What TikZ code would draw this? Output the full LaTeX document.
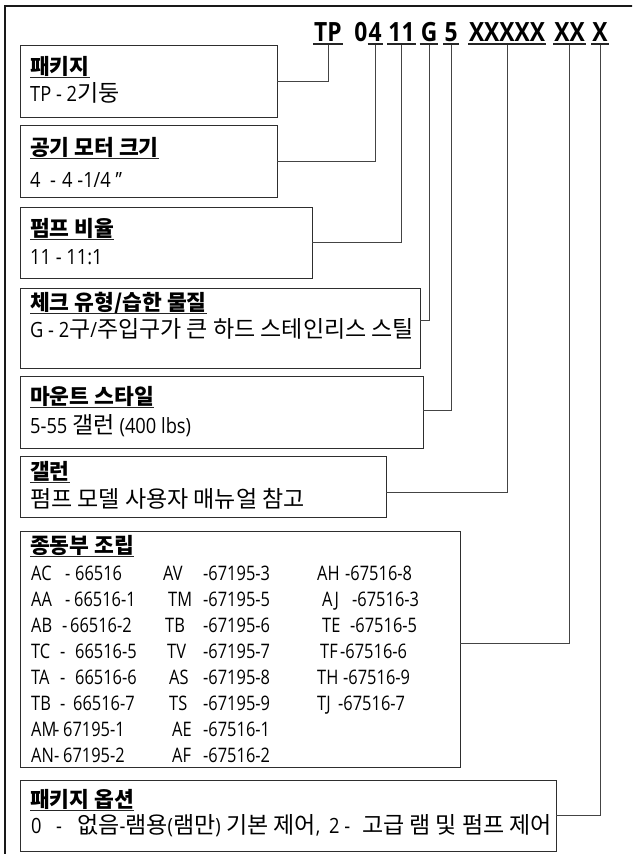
\documentclass[tikz,border=0pt]{standalone}
\usepackage{fontspec}
\setmainfont{Noto Sans CJK KR}
\newfontfamily\latf{Open Sans}[FakeStretch=0.87]
\newfontfamily\tabf{Open Sans}[FakeStretch=0.82]
\newfontfamily\codef{Open Sans}[FakeStretch=0.86]
\newcommand\lt[1]{{\latf\fontsize{21}{25}\selectfont #1}}
\definecolor{boxc}{HTML}{2E2E2E}
\definecolor{connc}{HTML}{444444}
\tikzset{
  boxnode/.style={draw=boxc, line width=1pt, anchor=north west, inner sep=0pt, outer sep=0pt},
  lab/.style={anchor=base west, inner sep=0pt, font=\fontsize{21.5}{25}\selectfont\bfseries},
  body/.style={anchor=base west, inner sep=0pt, font=\fontsize{23}{27}\selectfont},
  tab/.style={anchor=base west, inner sep=0pt, font=\tabf\fontsize{20}{23}\selectfont},
  codetxt/.style={anchor=base, inner sep=0pt, font=\codef\bfseries\fontsize{26.5}{30}\selectfont},
  conn/.style={draw=connc, line width=1pt},
  uline/.style={draw=black!85, line width=1.4pt},
  cline/.style={draw=black!85, line width=2pt},
}
\begin{document}
\begin{tikzpicture}[x=1pt,y=-1pt]
\clip (0,0) rectangle (632,854);
\draw[line width=1.6pt, draw=black!90] (5,6) rectangle (700,900);

% code line
\node[codetxt] (c1) at (328,41) {TP};
\node[codetxt, anchor=base east] (c0) at (367.5,41) {0};
\node[codetxt, anchor=base west] (c2) at (368.5,41) {4};
\node[codetxt] (c3) at (401.5,41) {11};
\node[codetxt] (c4) at (429,41) {G};
\node[codetxt] (c5) at (451,41) {5};
\node[codetxt] (c6) at (507,41) {XXXXX};
\node[codetxt] (c7) at (569.5,41) {XX};
\node[codetxt] (c8) at (600,41) {X};
\foreach \c in {c1,c2,c3,c4,c5,c6,c7,c8}{
  \draw[cline] ([xshift=-1pt,yshift=-3pt]\c.base west) -- ([xshift=1pt,yshift=-3pt]\c.base east);
}

% boxes
\node[boxnode, minimum width=257pt, minimum height=72pt] (b1) at (20,45) {};
\node[boxnode, minimum width=257pt, minimum height=72pt] (b2) at (20,125) {};
\node[boxnode, minimum width=292pt, minimum height=71pt] (b3) at (20,207) {};
\node[boxnode, minimum width=400pt, minimum height=80pt] (b4) at (20,288) {};
\node[boxnode, minimum width=403pt, minimum height=72pt] (b5) at (20,376) {};
\node[boxnode, minimum width=366pt, minimum height=61pt] (b6) at (20,456) {};
\node[boxnode, minimum width=440pt, minimum height=236pt] (b7) at (20,531) {};
\node[boxnode, minimum width=536pt, minimum height=71pt] (b8) at (20,780) {};

% labels
\node[lab] (l1) at (30,74) {패키지};
\node[lab] (l2) at (30,155) {공기 모터 크기};
\node[lab] (l3) at (30,236) {펌프 비율};
\node[lab] (l4) at (30,310) {체크 유형/습한 물질};
\node[lab] (l5) at (30,404) {마운트 스타일};
\node[lab] (l6) at (30,479) {갤런};
\node[lab] (l7) at (30,553) {종동부 조립};
\node[lab] (l8) at (30,807) {패키지 옵션};
\foreach \l in {l1,l2,l3,l4,l5,l6,l7,l8}{
  \draw[uline] ([yshift=-3.5pt]\l.base west) -- ([yshift=-3.5pt]\l.base east);
}

% body texts
\node[body] (t1) at (30,101) {\lt{TP - 2}기둥};
\node[body] (t2) at (30,187) {\lt{\makebox[20pt][l]{4}\makebox[12pt][l]{-}4 -1/4 ”}};
\node[body] (t3) at (30,264) {\lt{11 - 11:1}};
\node[body] (t4) at (30,337) {\lt{G - 2}구\lt{/}주입구가 큰 하드 스테인리스 스틸};
\node[body] (t5) at (30,433) {\lt{5-55 }갤런 \lt{(400 lbs)}};
\node[body] (t6) at (30,507) {펌프 모델 사용자 매뉴얼 참고};
\node[body] (t8) at (31,833) {\lt{\makebox[25pt][l]{0}\makebox[21pt][l]{-}}없음\lt{-}램용\lt{(}램만\lt{)} 기본 제어\lt{,}};
\node[body] (t8b) at (329,833) {\lt{\makebox[33pt][l]{2 -}}고급 램 및 펌프 제어};

% table
\foreach \i/\code/\dx/\nx/\num in {1/AC/65/75/66516, 2/AA/65/74/66516-1, 3/AB/62/70/66516-2, 4/TC/60/75/66516-5, 5/TA/60/75/66516-6, 6/TB/60/73/66516-7, 7/AM/54/63/67195-1, 8/AN/54/63/67195-2}{
  \node[tab] (pa\i) at (31,{554+26*\i}) {\code};
  \node[tab] (pd\i) at (\dx,{554+26*\i}) {-};
  \node[tab] (pn\i) at (\nx,{554+26*\i}) {\num};
}
\foreach \i/\code/\cx/\num in {1/AV/163/67195-3, 2/TM/168/67195-5, 3/TB/165/67195-6, 4/TV/167/67195-7, 5/AS/169/67195-8, 6/TS/169/67195-9, 7/AE/172/67516-1, 8/AF/172/67516-2}{
  \node[tab] (qa\i) at (\cx,{554+26*\i}) {\code};
  \node[tab] (qn\i) at (203,{554+26*\i}) {-\num};
}
\foreach \i/\code/\cx/\dx/\num in {1/AH/317/345/67516-8, 2/AJ/322/352/67516-3, 3/TE/322/350/67516-5, 4/TF/320/340/67516-6, 5/TH/317/343/67516-9, 6/TJ/317/338/67516-7}{
  \node[tab] (ra\i) at (\cx,{554+26*\i}) {\code};
  \node[tab] (rn\i) at (\dx,{554+26*\i}) {-\num};
}

% connectors
\draw[conn] (b1.east) -| ([yshift=-4pt]c1.base);
\draw[conn] (b2.east) -| ([yshift=-4pt]c2.base);
\draw[conn] (b3.east) -| ([yshift=-4pt]c3.base);
\draw[conn] ([yshift=8pt]b4.east) -| ([yshift=-4pt]c4.base);
\draw[conn] ([yshift=2pt]b5.east) -| ([yshift=-4pt]c5.base);
\draw[conn] ([yshift=-5.5pt]b6.east) -| ([yshift=-4pt]c6.base);
\draw[conn] ([yshift=6pt]b7.east) -| ([yshift=-4pt]c7.base);
\draw[conn] (b8.east) -| ([yshift=-4pt]c8.base);
\end{tikzpicture}
\end{document}
